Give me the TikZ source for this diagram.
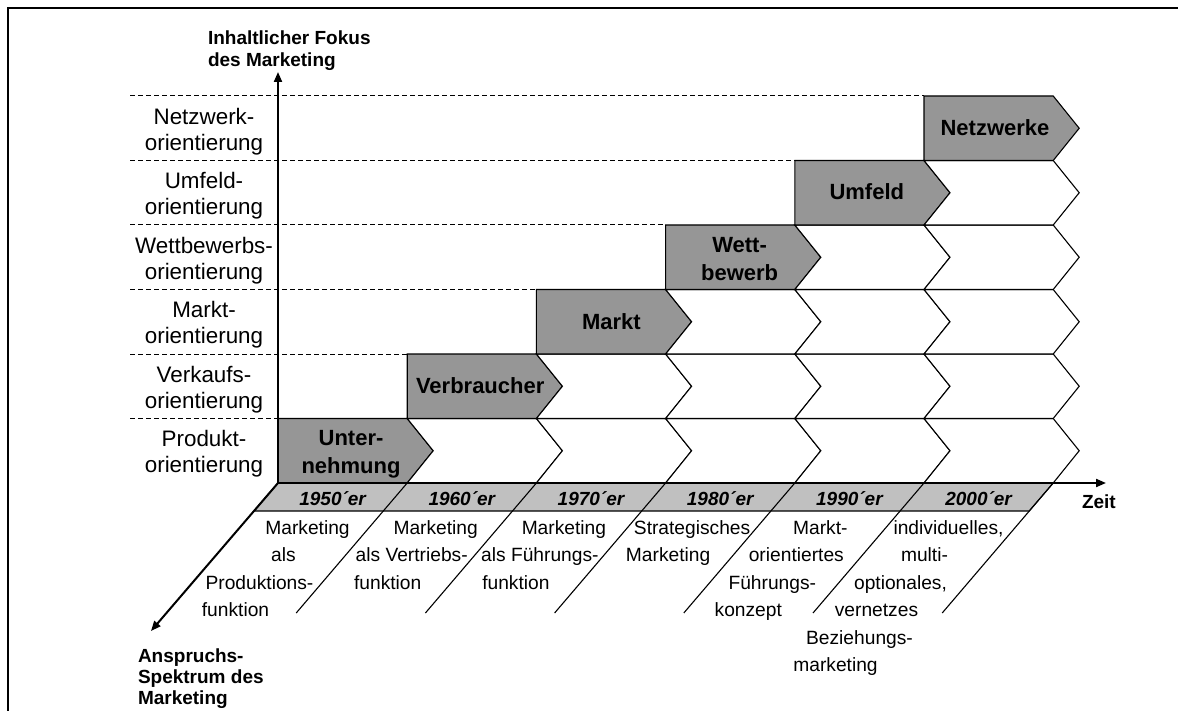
\documentclass[tikz,border=0pt]{standalone}
\usepackage{fontspec}
\setmainfont{Liberation Sans}
\usetikzlibrary{arrows.meta}
\definecolor{boxgray}{RGB}{150,150,150}
\definecolor{bandgray}{RGB}{192,192,192}

% column width, row height, chevron tip depth
\def\colW{129.2}
\def\rowH{64.5}
\def\tipD{26}

% one line of the lower era descriptions: [extra shift] column, line, text
\newcommand\eratxt[4][0]{%
  \node[eratext] (era#2-#3) at ({307.5+128.2*#2-24*#3+#1},{534+27.5*#3}) {#4};}

\begin{document}
\begin{tikzpicture}[x=1pt,y=-1pt,
  every node/.style={inner sep=0pt,outer sep=0pt},
  thinline/.style={line width=1.1pt,line join=miter},
  graychev/.style={thinline,draw=black,fill=boxgray},
  whitechev/.style={thinline,draw=black,fill=white},
  gridline/.style={line width=1pt,dash pattern=on 4.5pt off 3.5pt},
  axis/.style={line width=2pt,-{Triangle[length=10pt,width=8pt]}},
  rowlabel/.style={anchor=base,font=\fontsize{22.4}{26}\selectfont},
  boxlabel/.style={anchor=base,font=\fontsize{22}{26}\selectfont\bfseries},
  yearlabel/.style={anchor=base,font=\fontsize{19}{22}\selectfont\bfseries\itshape},
  axislabel/.style={anchor=base west,font=\fontsize{19}{22}\selectfont\bfseries},
  eratext/.style={anchor=base,font=\fontsize{19.2}{23}\selectfont}
]
\useasboundingbox (0,0) rectangle (1178,711);

% frame
\draw[line width=2.2pt] (8,712) -- (8,8) -- (1179,8);

% dashed row boundaries left of the chevrons
\foreach \j in {1,...,6} {
  \pgfmathsetmacro\yy{483-\j*\rowH}
  \pgfmathsetmacro\xe{278+(\j-1)*\colW}
  \draw[gridline] (130,\yy) -- (\xe,\yy);
}

% chevron rows: grey leading chevron, white chevrons behind it
\foreach \r in {0,...,5} {
  \pgfmathsetmacro\yb{483-\r*\rowH}
  \pgfmathsetmacro\yt{\yb-\rowH}
  \pgfmathsetmacro\ym{\yb-\rowH/2}
  \pgfmathsetmacro\xl{278+\r*\colW}
  \pgfmathsetmacro\xr{\xl+\colW}
  \draw[graychev] (\xl,\yt) -- (\xr,\yt) -- (\xr+\tipD,\ym) -- (\xr,\yb) -- (\xl,\yb) -- cycle;
  \ifnum\r<5
    \pgfmathtruncatemacro\cs{\r+1}
    \foreach \c in {\cs,...,5} {
      \pgfmathsetmacro\xa{278+\c*\colW}
      \pgfmathsetmacro\xb{\xa+\colW}
      \draw[whitechev] (\xa,\yt) -- (\xb,\yt) -- (\xb+\tipD,\ym) -- (\xb,\yb) -- (\xa,\yb) -- (\xa+\tipD,\ym) -- cycle;
    }
  \fi
}

% time band
\draw[thinline,fill=bandgray] (278,483) -- (278+6*\colW,483) -- (278+6*\colW-24,511) -- (254,511) -- cycle;

% slanted column separators
\foreach \k in {1,...,6} {
  \draw[thinline] (278+\k*\colW,483) -- ++(-111,130);
}

% axes
\coordinate (O) at (278,483);
\coordinate (yEnd) at (278,72);
\coordinate (xEnd) at (1106,483);
\coordinate (zEnd) at (151,631);
\draw[axis] (O) -- (yEnd);
\draw[axis] (O) -- (xEnd);
\draw[axis] (O) -- (zEnd);

% axis labels
\node[axislabel] (yl1) at (208,45) {Inhaltlicher Fokus};
\node[axislabel] (yl2) at (208,67) {des Marketing};
\node[axislabel] (xl) at (1082,508) {Zeit};
\node[axislabel] (zl1) at (138,662) {Anspruchs-};
\node[axislabel] (zl2) at (138,683) {Spektrum des};
\node[axislabel] (zl3) at (138,704) {Marketing};

% row labels
\foreach \r/\ta in {0/Produkt-,1/Verkaufs-,2/Markt-,3/Wettbewerbs-,4/Umfeld-,5/Netzwerk-} {
  \pgfmathsetmacro\ym{483-\r*\rowH-\rowH/2}
  \node[rowlabel] (row\r a) at (204,\ym-4) {\ta};
  \node[rowlabel] (row\r b) at (204,\ym+22) {orientierung};
}

% labels of the grey chevrons
\pgfmathsetmacro\ymA{483-\rowH/2}
\node[boxlabel] (b0a) at (278+73,\ymA-5) {Unter-};
\node[boxlabel] (b0b) at (278+73,\ymA+23) {nehmung};
\node[boxlabel] (b1) at (278+\colW+73,483-1.5*\rowH+7) {Verbraucher};
\node[boxlabel] (b2) at (278+2*\colW+75,483-2.5*\rowH+8) {Markt};
\node[boxlabel] (b3a) at (278+3*\colW+74,483-3.5*\rowH-5) {Wett-};
\node[boxlabel] (b3b) at (278+3*\colW+74,483-3.5*\rowH+23) {bewerb};
\node[boxlabel] (b4) at (278+4*\colW+72,483-4.5*\rowH+7) {Umfeld};
\node[boxlabel] (b5) at (278+5*\colW+71,483-5.5*\rowH+7) {Netzwerke};

% decades in the time band
\foreach \k/\yr in {0/1950,1/1960,2/1970,3/1980,4/1990,5/2000} {
  \node[yearlabel] (yr\k) at (278+\k*\colW+54.6,505) {\yr´er};
}

% era descriptions
\eratxt{0}{0}{Marketing}
\eratxt{0}{1}{als}
\eratxt{0}{2}{Produktions-}
\eratxt{0}{3}{funktion}
\eratxt{1}{0}{Marketing}
\eratxt{1}{1}{als Vertriebs-}
\eratxt{1}{2}{funktion}
\eratxt{2}{0}{Marketing}
\eratxt{2}{1}{als Führungs-}
\eratxt{2}{2}{funktion}
\eratxt{3}{0}{Strategisches}
\eratxt{3}{1}{Marketing}
\eratxt{4}{0}{Markt-}
\eratxt{4}{1}{orientiertes}
\eratxt{4}{2}{Führungs-}
\eratxt{4}{3}{konzept}
\eratxt{5}{0}{individuelles,}
\eratxt{5}{1}{multi-}
\eratxt{5}{2}{optionales,}
\eratxt{5}{3}{vernetzes}
\eratxt[7]{5}{4}{Beziehungs-}
\eratxt[7]{5}{5}{marketing}
\end{tikzpicture}
\end{document}
